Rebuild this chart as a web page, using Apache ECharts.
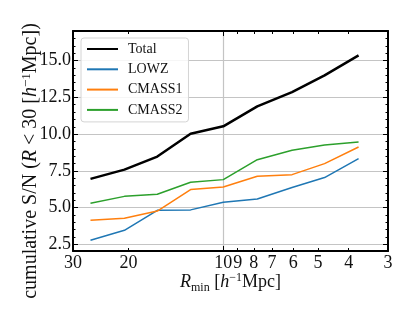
<!DOCTYPE html>
<html>
<head>
<meta charset="utf-8">
<script src="https://cdn.jsdelivr.net/npm/echarts@6/dist/echarts.min.js"></script>
<style>
html,body{margin:0;padding:0;background:#fff;}
#chart{width:415px;height:312px;}
</style>
</head>
<body>
<div id="chart"></div>
<script>
// R_min values [h^-1 Mpc]
const rMin = [26.4, 20.6, 16.2, 12.7, 10.0, 7.8, 6.05, 4.77, 3.72];
// cumulative S/N
const total  = [6.95, 7.58, 8.47, 10.03, 10.53, 11.89, 12.86, 14.0, 15.36];
const lowz   = [2.77, 3.45, 4.81, 4.84, 5.36, 5.58, 6.36, 7.04, 8.33];
const cmass1 = [4.13, 4.27, 4.76, 6.22, 6.40, 7.13, 7.24, 7.99, 9.12];
const cmass2 = [5.29, 5.76, 5.90, 6.72, 6.90, 8.26, 8.90, 9.26, 9.46];
const seriesNames = ['Total', 'LOWZ', 'CMASS1', 'CMASS2'];
// tick labels
const xTicks = [30, 20, 10, 9, 8, 7, 6, 5, 4, 3];
const xMajorTicks = [10];
const yTicks = [2.5, 5.0, 7.5, 10.0, 12.5, 15.0];
const yMinorTicks = [2.5, 3, 3.5, 4, 4.5, 5, 5.5, 6, 6.5, 7, 7.5, 8, 8.5, 9, 9.5, 10, 10.5, 11, 11.5, 12, 12.5, 13, 13.5, 14, 14.5, 15, 15.5, 16, 16.5, 17];

const FONT = 'Liberation Serif';
const pairs = ys => rMin.map((x, i) => [x, ys[i]]);

const chart = echarts.init(document.getElementById('chart'), null, {renderer: 'canvas'});

const frame = {show: true, onZero: false, lineStyle: {color: '#000', width: 2}};
const noLine = {show: false, onZero: false};
const xBase = {type: 'log', logBase: 10, min: 3, max: 30, inverse: true, gridIndex: 0};
const yBase = {type: 'value', min: 2.04, max: 17.02, gridIndex: 0};

const option = {
  animation: false,
  backgroundColor: '#fff',
  grid: {left: 73, top: 31, width: 315, height: 220, containLabel: false, outerBoundsMode: 'none'},
  legend: {
    orient: 'vertical',
    left: 81, top: 38,
    padding: [4, 6, 5, 5],
    itemWidth: 31, itemHeight: 14, itemGap: 6.3,
    backgroundColor: 'rgba(255,255,255,0.85)',
    borderColor: '#d4d4d4', borderWidth: 1, borderRadius: 3,
    itemStyle: {opacity: 0},
    textStyle: {fontFamily: FONT, fontSize: 14, color: '#111', padding: [0, 0, 0, 5]},
    data: seriesNames
  },
  xAxis: [
    Object.assign({}, xBase, {
      position: 'bottom',
      axisLine: frame,
      axisTick: {show: true, inside: true, length: 3, customValues: xTicks, lineStyle: {color: '#000', width: 1}},
      axisLabel: {show: true, customValues: xTicks, margin: 3, interval: 0, hideOverlap: false,
        fontFamily: FONT, fontSize: 18, color: '#111', formatter: v => String(Math.round(v))},
      splitLine: {show: false},
      name: '{i|R}{sub|min} [{i|h}{sup|−1}Mpc]',
      nameLocation: 'middle', nameGap: 21, nameMoveOverlap: false,
      nameTextStyle: {fontFamily: FONT, fontSize: 18, color: '#111', lineHeight: 20,
        rich: {
          i: {fontFamily: FONT, fontSize: 18, fontStyle: 'italic', color: '#111', lineHeight: 20},
          sub: {fontFamily: FONT, fontSize: 12, color: '#111', verticalAlign: 'bottom', lineHeight: 20, padding: [0, 0, -2, 0]},
          sup: {fontFamily: FONT, fontSize: 12, color: '#111', verticalAlign: 'top', lineHeight: 20}
        }}
    }),
    Object.assign({}, xBase, {
      position: 'top',
      axisLine: frame,
      axisTick: {show: true, inside: true, length: 3, customValues: xTicks, lineStyle: {color: '#000', width: 1}},
      axisLabel: {show: false},
      splitLine: {show: false}
    }),
    Object.assign({}, xBase, {
      position: 'bottom',
      axisLine: noLine,
      axisTick: {show: true, inside: true, length: 5, customValues: xMajorTicks, lineStyle: {color: '#000', width: 1}},
      axisLabel: {show: false},
      splitLine: {show: true, lineStyle: {color: '#c4c4c4', width: 1.2}}
    }),
    Object.assign({}, xBase, {
      position: 'top',
      axisLine: noLine,
      axisTick: {show: true, inside: true, length: 5, customValues: xMajorTicks, lineStyle: {color: '#000', width: 1}},
      axisLabel: {show: false},
      splitLine: {show: false}
    })
  ],
  yAxis: [
    Object.assign({}, yBase, {
      position: 'left',
      axisLine: frame,
      axisTick: {show: true, inside: true, length: 5, customValues: yTicks, lineStyle: {color: '#000', width: 1}},
      axisLabel: {show: true, customValues: yTicks, margin: 2, interval: 0, hideOverlap: false,
        fontFamily: FONT, fontSize: 18, color: '#111', formatter: v => v.toFixed(1)},
      splitLine: {show: true, lineStyle: {color: '#c4c4c4', width: 1.2}},
      name: 'cumulative S/N ({i|R} < 30 [{i|h}{sup|−1}Mpc])',
      nameLocation: 'middle', nameRotate: 90, nameGap: 31, nameMoveOverlap: false,
      nameTextStyle: {fontFamily: FONT, fontSize: 20, color: '#111', lineHeight: 22, padding: [0, 40, 0, 0],
        rich: {
          i: {fontFamily: FONT, fontSize: 20, fontStyle: 'italic', color: '#111', lineHeight: 22},
          sup: {fontFamily: FONT, fontSize: 13, color: '#111', verticalAlign: 'top', lineHeight: 22}
        }}
    }),
    Object.assign({}, yBase, {
      position: 'right',
      axisLine: frame,
      axisTick: {show: true, inside: true, length: 5, customValues: yTicks, lineStyle: {color: '#000', width: 1}},
      axisLabel: {show: false},
      splitLine: {show: false}
    }),
    Object.assign({}, yBase, {
      position: 'left',
      axisLine: noLine,
      axisTick: {show: true, inside: true, length: 2.5, customValues: yMinorTicks, lineStyle: {color: '#000', width: 1}},
      axisLabel: {show: false},
      splitLine: {show: false}
    }),
    Object.assign({}, yBase, {
      position: 'right',
      axisLine: noLine,
      axisTick: {show: true, inside: true, length: 2.5, customValues: yMinorTicks, lineStyle: {color: '#000', width: 1}},
      axisLabel: {show: false},
      splitLine: {show: false}
    })
  ],
  series: [
    {name: seriesNames[0], type: 'line', data: pairs(total), xAxisIndex: 0, yAxisIndex: 0,
      symbol: 'none', color: '#000', lineStyle: {color: '#000', width: 2.5}, z: 5},
    {name: seriesNames[1], type: 'line', data: pairs(lowz), xAxisIndex: 0, yAxisIndex: 0,
      symbol: 'none', color: '#1f77b4', lineStyle: {color: '#1f77b4', width: 1.5}, z: 4},
    {name: seriesNames[2], type: 'line', data: pairs(cmass1), xAxisIndex: 0, yAxisIndex: 0,
      symbol: 'none', color: '#ff7f0e', lineStyle: {color: '#ff7f0e', width: 1.5}, z: 4},
    {name: seriesNames[3], type: 'line', data: pairs(cmass2), xAxisIndex: 0, yAxisIndex: 0,
      symbol: 'none', color: '#2ca02c', lineStyle: {color: '#2ca02c', width: 1.5}, z: 4}
  ]
};
chart.setOption(option);
</script>
</body>
</html>
